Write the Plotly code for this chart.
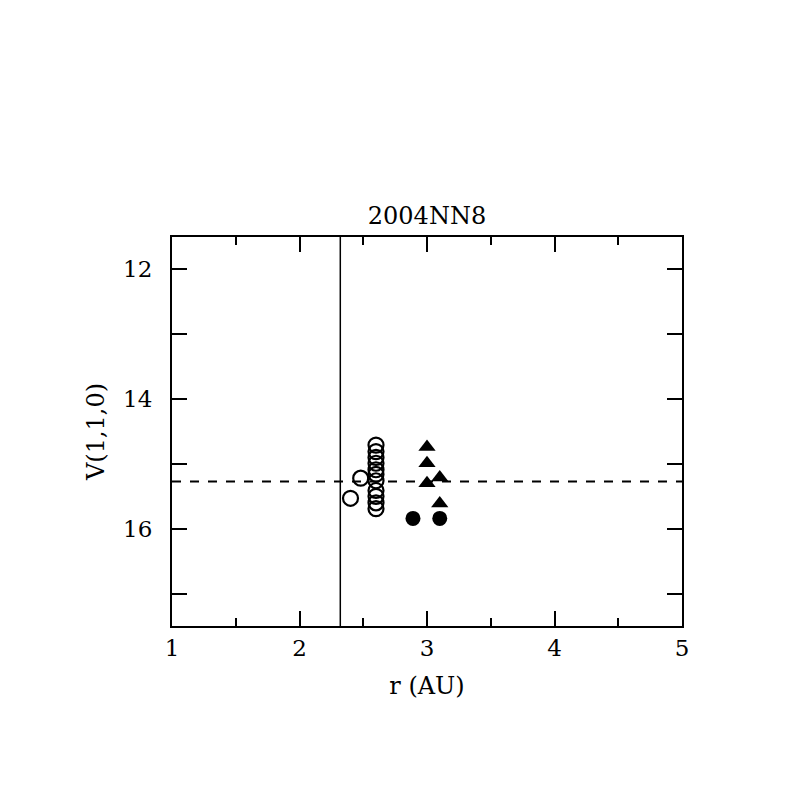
import plotly.graph_objects as go

title = "2004NN8"
open_r = [2.6]*11 + [2.48, 2.40]
open_v = [14.71, 14.81, 14.90, 14.99, 15.09, 15.16, 15.26, 15.41, 15.50, 15.60, 15.69, 15.22, 15.53]
tri_r = [3.0, 3.0, 3.0, 3.1, 3.1]
tri_v = [14.74, 14.99, 15.30, 15.21, 15.61]
fill_r = [2.89, 3.1]
fill_v = [15.84, 15.84]
vline_r = 2.32
hline_v = 15.27

font = "DejaVu Serif"
fig = go.Figure()
fig.add_trace(go.Scatter(x=open_r, y=open_v, mode="markers",
                         marker=dict(symbol="circle-open", size=15, color="black", line=dict(width=2.2))))
fig.add_trace(go.Scatter(x=tri_r, y=tri_v, mode="markers",
                         marker=dict(symbol="triangle-up", size=15, color="black")))
fig.add_trace(go.Scatter(x=fill_r, y=fill_v, mode="markers",
                         marker=dict(symbol="circle", size=15, color="black")))
fig.add_vline(x=vline_r, line=dict(color="black", width=1.5))
fig.add_hline(y=hline_v, line=dict(color="black", width=2, dash="dash"))

axcommon = dict(showline=True, linecolor="black", linewidth=2, mirror="allticks", ticks="inside",
                tickcolor="black", tickwidth=2, ticklen=15, showgrid=False, zeroline=False,
                tickfont=dict(family=font, size=23, color="black"))
fig.update_xaxes(range=[1, 5], dtick=1, tick0=1, ticklabelstandoff=0,
                 minor=dict(dtick=0.5, ticklen=8, ticks="inside", tickcolor="black", tickwidth=2),
                 title=dict(text="r (AU)", font=dict(family=font, size=24, color="black"), standoff=18),
                 **axcommon)
fig.update_yaxes(range=[17.5, 11.5], dtick=2, tick0=12, ticklabelstandoff=13,
                 minor=dict(dtick=1, ticklen=15, ticks="inside", tickcolor="black", tickwidth=2),
                 title=dict(text="V(1,1,0)", font=dict(family=font, size=24, color="black"), standoff=12),
                 **axcommon)
fig.update_layout(width=789, height=789, showlegend=False,
                  plot_bgcolor="white", paper_bgcolor="white",
                  margin=dict(l=164, r=115, t=229, b=171),
                  title=dict(text=title, x=(427-8)/789, xanchor="center", y=1-(216-8)/789, yanchor="middle",
                             font=dict(family=font, size=24, color="black")))
fig.write_html("out.html")
